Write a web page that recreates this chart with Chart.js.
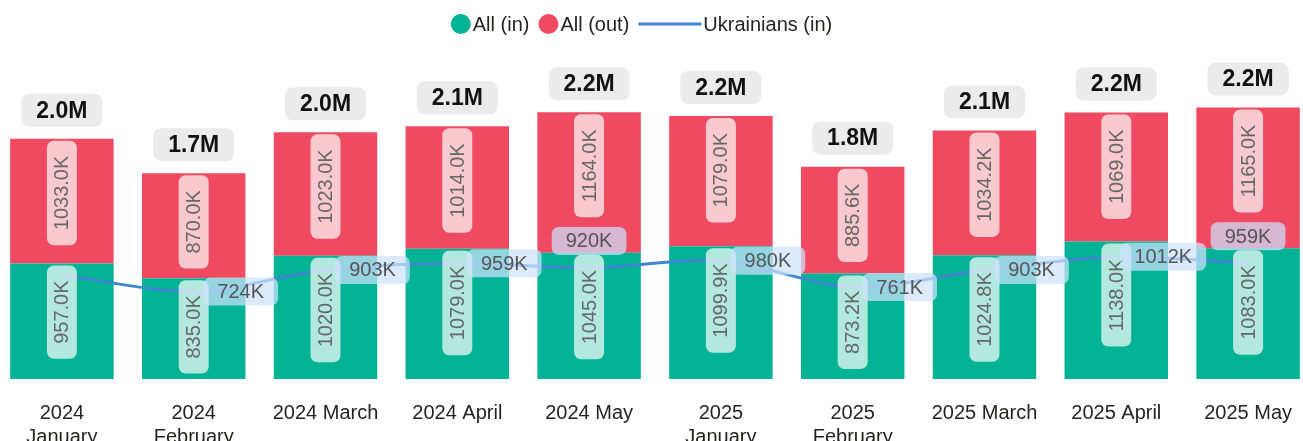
<!DOCTYPE html>
<html>
<head>
<meta charset="utf-8">
<script src="https://cdn.jsdelivr.net/npm/chart.js@4.4.1/dist/chart.umd.min.js"></script>
<style>
  html, body { margin: 0; padding: 0; background: #fff; overflow: hidden; }
  #wrap { position: relative; width: 1303px; height: 441px; overflow: hidden; }
  #chart { position: absolute; left: -4px; top: 0; }
</style>
</head>
<body>
<div id="wrap"><canvas id="chart" width="1318" height="441"></canvas></div>
<script>
// Datos
const months = [
  ['2024', 'January'], ['2024', 'February'], '2024 March', '2024 April', '2024 May',
  ['2025', 'January'], ['2025', 'February'], '2025 March', '2025 April', '2025 May'
];
const allIn = [957.0, 835.0, 1020.0, 1079.0, 1045.0, 1099.9, 873.2, 1024.8, 1138.0, 1083.0];
const allOut = [1033.0, 870.0, 1023.0, 1014.0, 1164.0, 1079.0, 885.6, 1034.2, 1069.0, 1165.0];
const ukrIn = [862, 724, 903, 959, 920, 980, 761, 903, 1012, 959];
// donde va la etiqueta de la línea
const ukrLabelPos = ['none', 'right', 'right', 'right', 'above', 'right', 'right', 'right', 'right', 'above'];

const FONT = '"Liberation Sans", Arial, sans-serif';
const GREEN = '#01b394';
const RED = '#ef4a61';
const BLUE = '#3e87cf';

function roundBox(ctx, x, y, w, h, r, fill) {
  ctx.beginPath();
  ctx.roundRect(x, y, w, h, r);
  ctx.fillStyle = fill;
  ctx.fill();
}

// Etiquetas dentro de las barras (rotadas)
const barLabels = {
  id: 'barLabels',
  afterDatasetsDraw(chart) {
    const ctx = chart.ctx;
    ctx.save();
    ctx.font = '20px ' + FONT;
    [0, 1].forEach(di => {
      const meta = chart.getDatasetMeta(di);
      meta.data.forEach((el, i) => {
        const txt = chart.data.datasets[di].data[i].toFixed(1) + 'K';
        const tw = ctx.measureText(txt).width;
        const len = tw + 30;
        const top = el.y + 2;
        roundBox(ctx, el.x - 15, top, 30, len, 7, 'rgba(255,255,255,0.7)');
        ctx.save();
        ctx.translate(el.x, top + len / 2);
        ctx.rotate(-Math.PI / 2);
        ctx.fillStyle = '#666';
        ctx.textAlign = 'center';
        ctx.textBaseline = 'middle';
        ctx.fillText(txt, 0, 1);
        ctx.restore();
      });
    });

    // etiquetas de la línea
    ctx.font = '20px ' + FONT;
    const lmeta = chart.getDatasetMeta(2);
    lmeta.data.forEach((pt, i) => {
      if (ukrLabelPos[i] === 'none') return;
      const txt = ukrIn[i] + 'K';
      const tw = ctx.measureText(txt).width;
      const w = tw + 28, h = 28;
      let cx = pt.x, cy = pt.y;
      if (ukrLabelPos[i] === 'right') cx = pt.x + 47;
      else cy = pt.y - 27;
      roundBox(ctx, cx - w / 2, cy - h / 2, w, h, 7, 'rgba(205,226,252,0.72)');
      ctx.fillStyle = '#555';
      ctx.textAlign = 'center';
      ctx.textBaseline = 'middle';
      ctx.fillText(txt, cx, cy + 1);
    });

    // totales
    ctx.font = 'bold 23px ' + FONT;
    const tmeta = chart.getDatasetMeta(1);
    tmeta.data.forEach((el, i) => {
      const txt = ((allIn[i] + allOut[i]) / 1000).toFixed(1) + 'M';
      const tw = ctx.measureText(txt).width;
      const w = tw + 30, h = 33;
      const bottom = el.y - 12;
      roundBox(ctx, el.x - w / 2, bottom - h, w, h, 8, '#ebebeb');
      ctx.fillStyle = '#111';
      ctx.textAlign = 'center';
      ctx.textBaseline = 'middle';
      ctx.fillText(txt, el.x, bottom - h / 2 + 1);
    });
    ctx.restore();
  }
};

// Leyenda dibujada a mano
const topLegend = {
  id: 'topLegend',
  afterDraw(chart) {
    const ctx = chart.ctx;
    ctx.save();
    ctx.font = '20px ' + FONT;
    const items = [
      { kind: 'dot', color: GREEN, text: 'All (in)' },
      { kind: 'dot', color: RED, text: 'All (out)' },
      { kind: 'line', color: BLUE, text: 'Ukrainians (in)' }
    ];
    const symW = { dot: 20, line: 63 };
    let total = 0;
    items.forEach((it, k) => {
      it.w = symW[it.kind] + 2 + ctx.measureText(it.text).width;
      total += it.w + (k ? 9 : 0);
    });
    let x = 645.5 - total / 2;
    const y = 24;
    items.forEach(it => {
      ctx.fillStyle = it.color;
      if (it.kind === 'dot') {
        ctx.beginPath();
        ctx.arc(x + 10, y, 10, 0, Math.PI * 2);
        ctx.fill();
      } else {
        ctx.fillRect(x, y - 1.5, 63, 3);
      }
      ctx.fillStyle = '#252423';
      ctx.textAlign = 'left';
      ctx.textBaseline = 'middle';
      ctx.fillText(it.text, x + symW[it.kind] + 2, y + 1);
      x += it.w + 9;
    });
    ctx.restore();
  }
};

const ctx = document.getElementById('chart').getContext('2d');
const chart = new Chart(ctx, {
  type: 'bar',
  data: {
    labels: months,
    datasets: [
      { label: 'All (in)', data: allIn, backgroundColor: GREEN, stack: 'bars', order: 1,
        categoryPercentage: 0.785, barPercentage: 1 },
      { label: 'All (out)', data: allOut, backgroundColor: RED, stack: 'bars', order: 1,
        categoryPercentage: 0.785, barPercentage: 1 },
      { type: 'line', label: 'Ukrainians (in)', data: ukrIn, borderColor: BLUE, borderWidth: 3,
        pointRadius: 0, tension: 0.3, stack: 'ukr', order: 0, fill: false }
    ]
  },
  options: {
    responsive: false,
    animation: false,
    devicePixelRatio: 1,
    layout: { padding: { top: 53, left: 0, right: 0, bottom: 0 } },
    plugins: { legend: { display: false }, tooltip: { enabled: false } },
    scales: {
      x: {
        stacked: true,
        grid: { display: false, drawTicks: false },
        border: { display: false },
        ticks: { color: '#252423', font: { size: 20, family: FONT }, padding: 22,
          maxRotation: 0, autoSkip: false },
        afterFit(scale) { scale.height = 62; }
      },
      y: {
        stacked: true,
        display: false,
        min: 0,
        max: 2700
      }
    }
  },
  plugins: [barLabels, topLegend]
});
</script>
</body>
</html>
